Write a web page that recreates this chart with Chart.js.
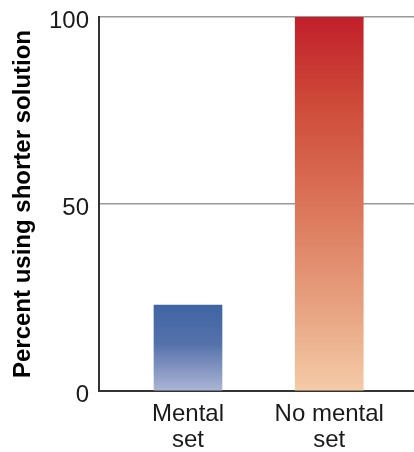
<!DOCTYPE html>
<html>
<head>
<meta charset="utf-8">
<script src="https://cdn.jsdelivr.net/npm/chart.js@4"></script>
<style>
  html, body { margin: 0; padding: 0; background: #fff; }
  #wrap { width: 414px; height: 452px; }
</style>
</head>
<body>
<div id="wrap"><canvas id="mentalSet"></canvas></div>
<script>
// data
const categories = [['Mental', 'set'], ['No mental', 'set']];
const positions = [1, 2];
const percentShorter = [23, 100];
const yTicks = [0, 50, 100];

// gradient stops per bar (top -> bottom)
const barStops = [
  [[0, '#3e65a2'], [0.45, '#5571ab'], [1, '#acb5d5']],
  [[0, '#c21f2a'], [0.22, '#cd4838'], [0.5, '#db7458'], [0.76, '#e69f7e'], [1, '#f5cba7']]
];

const canvas = document.getElementById('mentalSet');
const ctx = canvas.getContext('2d');

function barGradient(context) {
  const chart = context.chart;
  const area = chart.chartArea;
  if (!area) return '#888';
  const i = context.dataIndex;
  const top = chart.scales.y.getPixelForValue(percentShorter[i]);
  const bottom = chart.scales.y.getPixelForValue(0);
  const g = chart.ctx.createLinearGradient(0, top, 0, bottom);
  barStops[i].forEach(s => g.addColorStop(s[0], s[1]));
  return g;
}

const mentalSetChart = new Chart(ctx, {
  type: 'bar',
  data: {
    datasets: [{
      data: positions.map((x, i) => ({ x: x, y: percentShorter[i] })),
      backgroundColor: barGradient,
      borderWidth: 0,
      barThickness: 68
    }]
  },
  options: {
    responsive: true,
    maintainAspectRatio: false,
    animation: false,
    layout: { padding: { top: 17, right: 0, left: 0, bottom: 0 } },
    plugins: {
      legend: { display: false },
      tooltip: { enabled: false }
    },
    scales: {
      x: {
        type: 'linear',
        offset: false,
        min: 0.37,
        max: 2.6,
        afterBuildTicks: axis => { axis.ticks = positions.map(v => ({ value: v })); },
        afterFit: axis => { axis.height = 61; axis.paddingLeft = 0; axis.paddingRight = 0; },
        ticks: {
          autoSkip: false,
          maxRotation: 0,
          padding: 10,
          color: '#1a1a1a',
          font: { family: 'Liberation Sans, Arial, sans-serif', size: 24, lineHeight: 1.1 },
          callback: (v) => categories[positions.indexOf(v)]
        },
        grid: { display: false, drawTicks: false },
        border: { display: true, color: '#333', width: 2 }
      },
      y: {
        min: 0,
        max: 100,
        afterBuildTicks: axis => { axis.ticks = yTicks.map(v => ({ value: v })); },
        afterFit: axis => { axis.width = 99; axis.paddingTop = 0; axis.paddingBottom = 0; },
        ticks: {
          padding: 10,
          labelOffset: 4,
          color: '#1a1a1a',
          font: { family: 'Liberation Sans, Arial, sans-serif', size: 24 }
        },
        grid: {
          color: '#9a9a9a',
          lineWidth: 1.5,
          drawTicks: false
        },
        border: { display: true, color: '#333', width: 2 },
        title: {
          display: true,
          text: 'Percent using shorter solution',
          color: '#000',
          padding: { top: 9, bottom: 0 },
          font: { family: 'Liberation Sans, Arial, sans-serif', size: 24, weight: 'bold' }
        }
      }
    }
  }
});
</script>
</body>
</html>
